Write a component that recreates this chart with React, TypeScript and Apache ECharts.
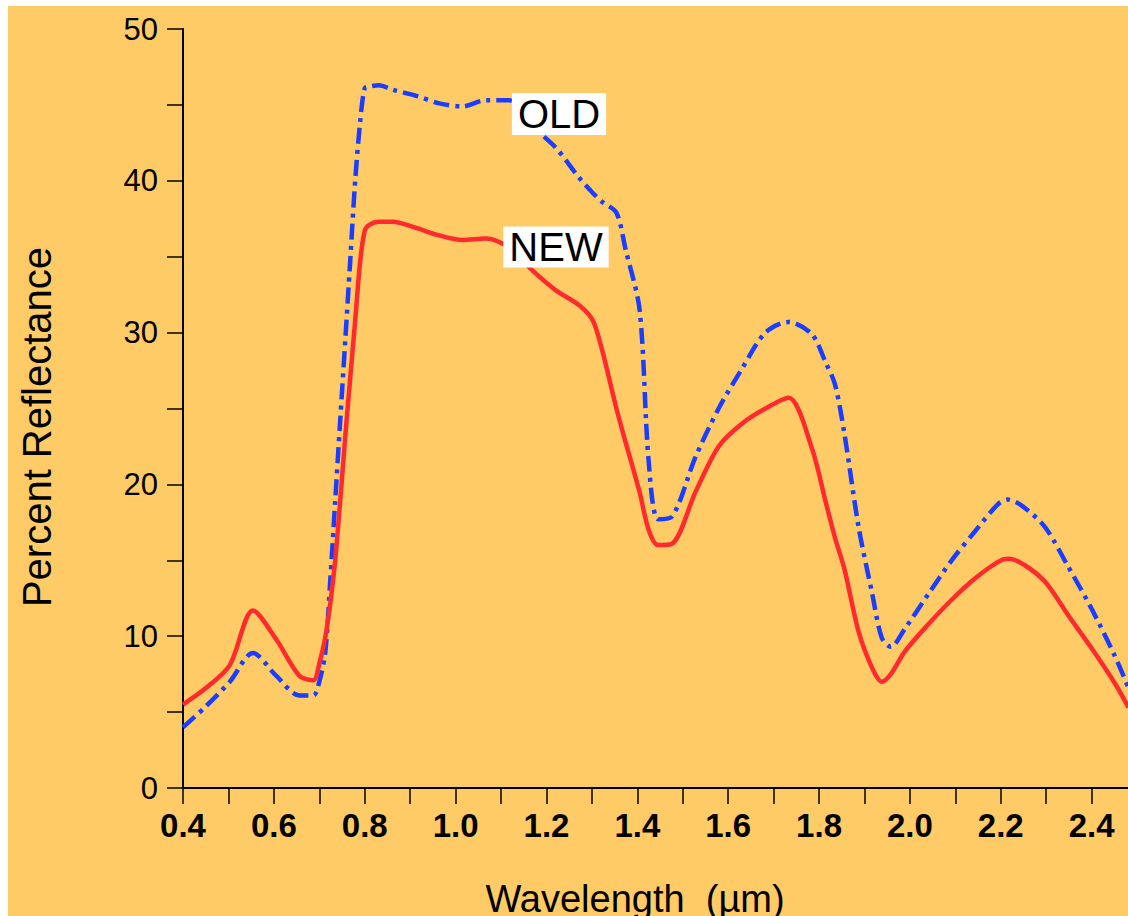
import React, { useEffect, useRef } from "react";
import * as echarts from "echarts";

const wavelengths = [
  0.400, 0.451, 0.503, 0.554, 0.605, 0.656, 0.687, 0.700, 0.713, 0.724, 0.735, 0.746, 0.757,
  0.768, 0.779, 0.790, 0.800, 0.810, 0.831, 0.861, 0.913, 0.964, 1.015, 1.066, 1.118, 1.169,
  1.220, 1.272, 1.302, 1.323, 1.354, 1.374, 1.405, 1.425, 1.446, 1.477, 1.528, 1.579, 1.630,
  1.682, 1.733, 1.784, 1.815, 1.835, 1.856, 1.887, 1.917, 1.938, 1.958, 1.989, 2.041, 2.092,
  2.143, 2.194, 2.215, 2.246, 2.297, 2.348, 2.400, 2.451, 2.481,
];

const newValues = [
  5.5, 6.6, 8.1, 11.7, 9.8, 7.4, 7.1, 8.2, 9.9, 12.1, 15.0, 18.9, 23.1,
  27.0, 30.8, 34.7, 36.7, 37.1, 37.3, 37.3, 36.9, 36.4, 36.1, 36.2, 35.6, 34.1,
  32.8, 31.8, 30.8, 28.8, 25.0, 22.8, 19.5, 17.0, 16.0, 16.1, 19.5, 22.5, 24.0,
  25.0, 25.7, 22.4, 18.8, 16.5, 14.4, 10.3, 7.9, 7.0, 7.5, 9.0, 10.8, 12.4,
  13.8, 14.9, 15.1, 14.8, 13.6, 11.4, 9.2, 6.9, 5.3,
];

const oldValues = [
  4.0, 5.4, 7.0, 8.9, 7.4, 6.1, 6.1, 7.0, 8.9, 13.6, 18.9, 24.2, 29.4,
  34.7, 40.0, 43.9, 46.1, 46.2, 46.3, 46.0, 45.6, 45.1, 44.9, 45.3, 45.3, 43.6,
  42.2, 40.2, 39.2, 38.6, 37.9, 35.5, 31.5, 21.5, 17.7, 17.9, 21.8, 25.0, 27.6,
  30.0, 30.7, 29.9, 28.0, 26.6, 23.3, 17.2, 12.8, 9.9, 9.3, 10.5, 12.8, 15.0,
  16.9, 18.7, 19.0, 18.6, 17.2, 14.6, 11.8, 8.7, 6.6,
];

const seriesNames = ["NEW", "OLD"];
const xAxisTitle = "Wavelength  (µm)";
const yAxisTitle = "Percent Reflectance";

const FONT = '"Liberation Sans", Arial, Helvetica, sans-serif';

export default function App() {
  const ref = useRef<HTMLDivElement>(null);

  useEffect(() => {
    if (!ref.current) return;
    const chart = echarts.init(ref.current, null, { renderer: "svg" });
    const toPairs = (vals: number[]) => wavelengths.map((w, i) => [w, vals[i]]);

    chart.setOption({
      animation: false,
      backgroundColor: "#FECB66",
      grid: { left: 175, right: 0, top: 23, bottom: 128, containLabel: false },
      xAxis: {
        type: "value",
        min: 0.4,
        max: 2.48,
        interval: 0.1,
        splitLine: { show: false },
        axisLine: { show: true, lineStyle: { color: "#000", width: 2 } },
        axisTick: { show: true, inside: false, length: 16, lineStyle: { color: "#000", width: 1.5 } },
        axisLabel: {
          show: true,
          margin: 21,
          showMaxLabel: false,
          color: "#000",
          fontFamily: FONT,
          fontSize: 33,
          fontWeight: "bold",
          formatter: (v: number) => {
            const t = Math.round(v * 10);
            return t % 2 === 0 ? (t / 10).toFixed(1) : "";
          },
        },
      },
      yAxis: {
        type: "value",
        min: 0,
        max: 50,
        interval: 5,
        splitLine: { show: false },
        axisLine: { show: true, lineStyle: { color: "#000", width: 2 } },
        axisTick: { show: true, inside: false, length: 16, lineStyle: { color: "#000", width: 1.5 } },
        axisLabel: {
          show: true,
          margin: 25,
          color: "#000",
          fontFamily: FONT,
          fontSize: 31,
          formatter: (v: number) => (Math.round(v) % 10 === 0 ? String(Math.round(v)) : ""),
        },
      },
      series: [
        {
          name: seriesNames[0],
          type: "line",
          data: toPairs(newValues),
          smooth: 0.3,
          showSymbol: false,
          lineStyle: { color: "#FF2A2E", width: 4.5, type: "solid" },
          z: 3,
        },
        {
          name: seriesNames[1],
          type: "line",
          data: toPairs(oldValues),
          smooth: 0.3,
          showSymbol: false,
          lineStyle: { color: "#1A3DFF", width: 4.5, type: [16, 6, 4, 6] },
          z: 2,
        },
      ],
      graphic: [
        {
          type: "text",
          x: 627,
          y: 893,
          style: {
            text: xAxisTitle,
            fontFamily: FONT,
            fontSize: 38,
            fill: "#000",
            textAlign: "center",
            textVerticalAlign: "middle",
          },
        },
        {
          type: "text",
          x: 29,
          y: 421,
          rotation: Math.PI / 2,
          style: {
            text: yAxisTitle,
            fontFamily: FONT,
            fontSize: 40,
            fill: "#000",
            textAlign: "center",
            textVerticalAlign: "middle",
          },
        },
        {
          type: "text",
          x: 551,
          y: 108,
          z: 10,
          style: {
            text: seriesNames[1],
            fontFamily: FONT,
            fontSize: 40,
            fill: "#000",
            textAlign: "center",
            textVerticalAlign: "middle",
            backgroundColor: "#fff",
            padding: [2, 6, 0, 6],
          },
        },
        {
          type: "text",
          x: 548,
          y: 241,
          z: 10,
          style: {
            text: seriesNames[0],
            fontFamily: FONT,
            fontSize: 40,
            fill: "#000",
            textAlign: "center",
            textVerticalAlign: "middle",
            backgroundColor: "#fff",
            padding: [1, 6, 0, 6],
          },
        },
      ],
    });

    return () => chart.dispose();
  }, []);

  return (
    <div
      ref={ref}
      style={{ position: "fixed", left: 8, top: 6, width: 1120, height: 910 }}
    />
  );
}
